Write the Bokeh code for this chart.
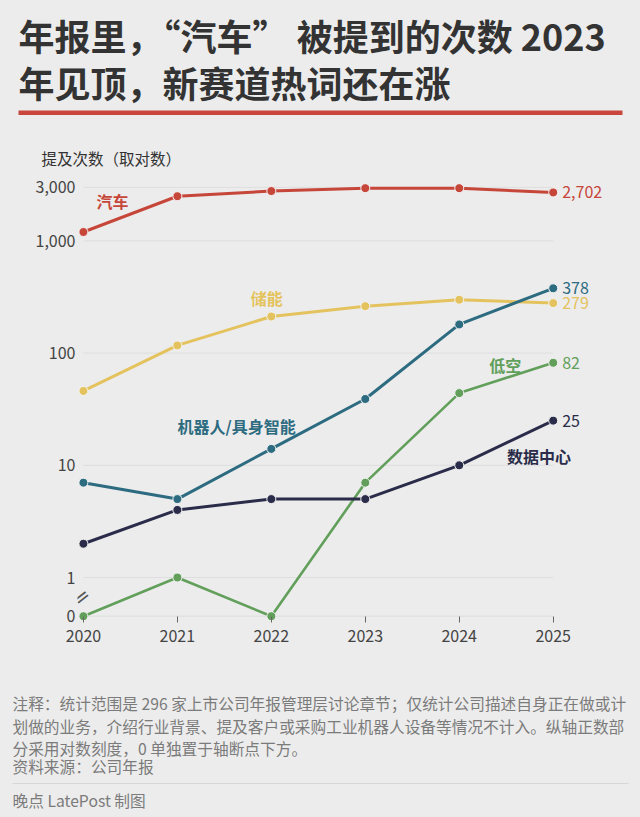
from bokeh.plotting import figure
from bokeh.layouts import column
from bokeh.models import (Range1d, FixedTicker, CustomJSTickFormatter, Label, BoxAnnotation)
from bokeh.embed import file_html
from bokeh.resources import INLINE

# ---------------- data ----------------
YEARS = [2020, 2021, 2022, 2023, 2024, 2025]
AUTO = [1200, 2500, 2780, 2950, 2950, 2702]
STORAGE = [46, 117, 212, 262, 299, 279]
ROBOT = [7, 5, 14, 39, 180, 378]
LOW_ALT = [0, 1, 0, 7, 44, 82]
DATA_CENTER = [2, 4, 5, 5, 10, 25]

SERIES_NAMES = ["汽车", "储能", "机器人/具身智能", "低空", "数据中心"]
Y_TICKS = [0, 1, 10, 100, 1000, 3000]

TITLE_1 = "年报里，“汽车” 被提到的次数 2023"
TITLE_2 = "年见顶，新赛道热词还在涨"
Y_LABEL = "提及次数（取对数）"
NOTES = [
    "注释：统计范围是 296 家上市公司年报管理层讨论章节；仅统计公司描述自身正在做或计",
    "划做的业务，介绍行业背景、提及客户或采购工业机器人设备等情况不计入。纵轴正数部",
    "分采用对数刻度，0 单独置于轴断点下方。",
]
SOURCE = "资料来源：公司年报"
CREDIT = "晚点 LatePost 制图"

# ---------------- style ----------------
FONT = "Noto Sans CJK SC"
BG = "#ececec"
COLORS = ["#c7463a", "#e4c35f", "#2c6b80", "#619f5b", "#2a2c4a"]
LINE_W = [3, 3, 3, 2.6, 3]
# label anchor positions for series names (year, value)
NAME_POS = [(2020.31, 2290), (2021.95, 307), (2021.63, 22.6), (2024.49, 79), (2024.85, 12.2)]

ZERO_POS = 0.452  # where the value 0 sits below the axis break

def to_plot(vals):
    return [ZERO_POS if v == 0 else v for v in vals]

W = 640
TOP_H, MAIN_H, BOT_H = 170, 485, 162


def blank_fig(h):
    f = figure(width=W, height=h, output_backend="svg", toolbar_location=None, title=None,
               x_axis_location=None, y_axis_location=None,
               x_range=Range1d(0, W), y_range=Range1d(0, h), frame_align=False,
               min_border_left=0, min_border_right=0, min_border_top=0, min_border_bottom=0)
    f.background_fill_color = BG
    f.border_fill_color = BG
    f.outline_line_color = None
    f.grid.visible = False
    return f


def screen_label(f, h, x, y, text, size, color, style="normal"):
    # x, y in page pixels from the top-left of this figure
    f.add_layout(Label(x=x, y=h - y, x_units="screen", y_units="screen", text=text,
                       text_align="left", text_baseline="middle", text_font=FONT,
                       text_font_size=size, text_font_style=style, text_color=color))


def rule(f, h, x0, x1, y0, y1, color):
    f.add_layout(BoxAnnotation(left=x0, right=x1, top=h - y0, bottom=h - y1,
                               left_units="screen", right_units="screen", top_units="screen",
                               bottom_units="screen", fill_color=color, fill_alpha=1,
                               line_color=None))

# ---------------- header ----------------
top = blank_fig(TOP_H)
screen_label(top, TOP_H, 18, 34, TITLE_1, "36px", "#333333", "bold")
screen_label(top, TOP_H, 18, 81, TITLE_2, "36px", "#333333", "bold")
rule(top, TOP_H, 18, 622, 110, 114.5, "#c9463d")
screen_label(top, TOP_H, 41, 157, Y_LABEL, "15.5px", "#333333")

# ---------------- main chart ----------------
p = figure(width=W, height=MAIN_H, y_axis_type="log",
           x_range=Range1d(2019.937, 2025.929),
           y_range=Range1d(0.4055, 3597), frame_align=False,
           output_backend="svg", toolbar_location=None, title=None,
           min_border_left=77, min_border_right=0, min_border_top=8, min_border_bottom=34)
p.background_fill_color = BG
p.border_fill_color = BG
p.outline_line_color = None
p.xgrid.visible = False
p.ygrid.visible = False

tick_pos = [ZERO_POS if t == 0 else t for t in Y_TICKS]

# grid lines spanning the year range
p.segment(x0=[YEARS[0]] * len(tick_pos), x1=[YEARS[-1]] * len(tick_pos),
          y0=tick_pos, y1=tick_pos, line_color="#dedede", line_width=1)

all_series = [AUTO, STORAGE, ROBOT, LOW_ALT, DATA_CENTER]
for vals, col, lw in zip(all_series, COLORS, LINE_W):
    yv = to_plot(vals)
    p.line(YEARS, yv, line_color=col, line_width=lw)
    p.scatter(YEARS, yv, size=9, fill_color=col, line_color="#f4f4f4", line_width=1)

p.yaxis.ticker = FixedTicker(ticks=tick_pos, minor_ticks=[])
p.yaxis.formatter = CustomJSTickFormatter(code="if (tick < 0.9) { return '0'; } return Math.round(tick).toLocaleString('en-US');")
p.yaxis.axis_line_color = None
p.yaxis.major_tick_line_color = None
p.yaxis.minor_tick_line_color = None
p.yaxis.major_tick_out = 0
p.yaxis.major_tick_in = 0
p.yaxis.major_label_standoff = 2
p.yaxis.major_label_text_font = FONT
p.yaxis.major_label_text_font_size = "16px"
p.yaxis.major_label_text_color = "#444444"

p.xaxis.ticker = FixedTicker(ticks=YEARS, minor_ticks=[])
p.xaxis.axis_line_color = None
p.xaxis.major_tick_line_color = "#666666"
p.xaxis.major_tick_in = 5
p.xaxis.major_tick_out = 1
p.xaxis.minor_tick_line_color = None
p.xaxis.major_label_standoff = 7
p.xaxis.major_label_text_font = FONT
p.xaxis.major_label_text_font_size = "16px"
p.xaxis.major_label_text_color = "#444444"

# axis break mark between 0 and 1
p.add_layout(Label(x=YEARS[0], y=(ZERO_POS * 1) ** 0.5, text="=", x_offset=-2,
                   angle=0.66, text_align="center", text_baseline="middle",
                   text_font="DejaVu Sans", text_font_size="20px", text_color="#555555"))

for name, (nx, ny), col in zip(SERIES_NAMES, NAME_POS, COLORS):
    p.add_layout(Label(x=nx, y=ny, text=name, text_align="center", text_baseline="middle",
                       text_font=FONT, text_font_size="16px", text_font_style="bold",
                       text_color=col))

for vals, col in zip(all_series, COLORS):
    p.add_layout(Label(x=YEARS[-1], y=vals[-1], text=f"{vals[-1]:,}", x_offset=9,
                       text_align="left", text_baseline="middle",
                       text_font=FONT, text_font_size="16px", text_color=col))

# ---------------- footer ----------------
bot = blank_fig(BOT_H)
Y0 = TOP_H + MAIN_H
for yy, line in zip([703, 725.5, 747.5], NOTES):
    screen_label(bot, BOT_H, 12, yy - Y0, line, "15.7px", "#7b7b7b")
screen_label(bot, BOT_H, 12, 766 - Y0, SOURCE, "15.7px", "#7b7b7b")
rule(bot, BOT_H, 12, 628, 782.5 - Y0, 783.5 - Y0, "#d6d6d6")
screen_label(bot, BOT_H, 12, 800 - Y0, CREDIT, "15.7px", "#7b7b7b")

layout = column(top, p, bot, spacing=0, styles={"background-color": BG})
open("out.html", "w").write(file_html(layout, INLINE))
